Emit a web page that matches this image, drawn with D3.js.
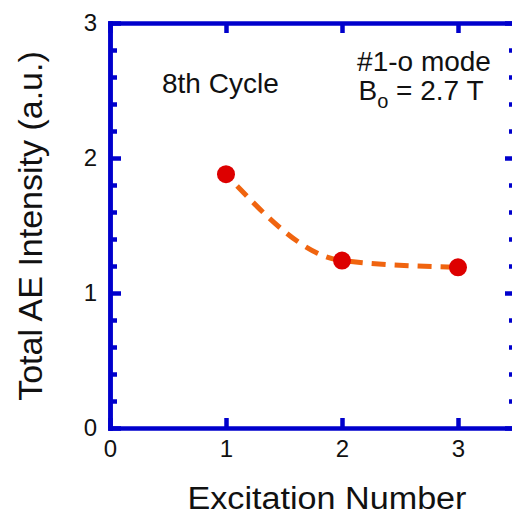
<!DOCTYPE html>
<html>
<head>
<meta charset="utf-8">
<script src="https://cdn.jsdelivr.net/npm/d3@7"></script>
<style>
  body { margin: 0; background: #fff; }
  svg { display: block; font-family: "Liberation Sans", Arial, Helvetica, sans-serif; }
</style>
</head>
<body>
<div id="chart"></div>
<script>
(function() {
  var width = 512,
      height = 511;

  // data
  var excitation = [1, 2, 3];
  var intensity = [1.88, 1.24, 1.19];
  var xTicks = [0, 1, 2, 3];
  var yTicks = [0, 1, 2, 3];
  var yMinor = [0.2, 0.4, 0.6, 0.8, 1.2, 1.4, 1.6, 1.8, 2.2, 2.4, 2.6, 2.8];

  var blue = "#0000cc";

  var svg = d3.select("#chart")
    .append("svg")
    .attr("width", width)
    .attr("height", height);

  var x = d3.scaleLinear().domain([0, 3.5]).range([110, 516]);
  var y = d3.scaleLinear().domain([0, 3]).range([428, 23]);

  function styleAxis(g, withLabels) {
    g.selectAll(".domain")
      .attr("stroke", blue)
      .attr("stroke-width", 4.5)
      .attr("stroke-linecap", "square");
    g.selectAll(".tick line")
      .attr("stroke", blue)
      .attr("stroke-width", 4.5);
    g.selectAll(".tick text")
      .attr("fill", "#111")
      .attr("font-size", withLabels ? 24 : 0)
      .attr("font-family", "Liberation Sans, Arial, sans-serif");
  }

  // minor ticks first (left / right)
  svg.append("g")
    .attr("transform", "translate(110,0)")
    .call(d3.axisLeft(y).tickValues(yMinor).tickSize(-7).tickSizeOuter(0).tickFormat(""))
    .call(function(g) { styleAxis(g, false); });

  svg.append("g")
    .attr("transform", "translate(516,0)")
    .call(d3.axisRight(y).tickValues(yMinor).tickSize(-7).tickSizeOuter(0).tickFormat(""))
    .call(function(g) { styleAxis(g, false); });

  // major ticks
  svg.append("g")
    .attr("transform", "translate(110,0)")
    .call(d3.axisLeft(y).tickValues(yTicks).tickSize(-11).tickSizeOuter(0).tickPadding(13).tickFormat(d3.format("d")))
    .call(function(g) { styleAxis(g, true); });

  svg.append("g")
    .attr("transform", "translate(516,0)")
    .call(d3.axisRight(y).tickValues(yTicks).tickSize(-11).tickSizeOuter(0).tickFormat(""))
    .call(function(g) { styleAxis(g, false); });

  svg.append("g")
    .attr("transform", "translate(0,428)")
    .call(d3.axisBottom(x).tickValues(xTicks).tickSize(-10).tickSizeOuter(0).tickPadding(12).tickFormat(d3.format("d")))
    .call(function(g) { styleAxis(g, true); });

  svg.append("g")
    .attr("transform", "translate(0,23)")
    .call(d3.axisTop(x).tickValues(xTicks).tickSize(-10).tickSizeOuter(0).tickFormat(""))
    .call(function(g) { styleAxis(g, false); });

  // dashed trend curve
  var pts = excitation.map(function(d, i) { return [d, intensity[i]]; });

  var line = d3.line()
    .x(function(d) { return x(d[0]); })
    .y(function(d) { return y(d[1]); })
    .curve(d3.curveMonotoneX);

  svg.append("path")
    .datum(pts)
    .attr("d", line)
    .attr("fill", "none")
    .attr("stroke", "#f0640f")
    .attr("stroke-width", 5)
    .attr("stroke-dasharray", "14,9")
    .attr("stroke-dashoffset", 7);

  svg.selectAll(".pt")
    .data(pts)
    .enter().append("circle")
    .attr("class", "pt")
    .attr("cx", function(d) { return x(d[0]); })
    .attr("cy", function(d) { return y(d[1]); })
    .attr("r", 9)
    .attr("fill", "#dd0000");

  // annotations
  svg.append("text")
    .attr("x", 162)
    .attr("y", 93)
    .attr("font-size", 28)
    .attr("fill", "#111")
    .text("8th Cycle");

  svg.append("text")
    .attr("x", 424)
    .attr("y", 71)
    .attr("text-anchor", "middle")
    .attr("font-size", 28)
    .attr("fill", "#111")
    .text("#1-o mode");

  var b = svg.append("text")
    .attr("x", 421)
    .attr("y", 100)
    .attr("text-anchor", "middle")
    .attr("font-size", 28)
    .attr("fill", "#111");
  b.append("tspan").text("B");
  b.append("tspan").attr("font-size", 20).attr("dy", 8).text("o");
  b.append("tspan").attr("dy", -8).text(" = 2.7 T");

  // axis titles
  svg.append("text")
    .attr("x", 327)
    .attr("y", 509)
    .attr("text-anchor", "middle")
    .attr("font-size", 31)
    .attr("textLength", 279)
    .attr("lengthAdjust", "spacingAndGlyphs")
    .attr("fill", "#111")
    .text("Excitation Number");

  svg.append("text")
    .attr("transform", "translate(42,226) rotate(-90)")
    .attr("text-anchor", "middle")
    .attr("font-size", 34)
    .attr("fill", "#111")
    .text("Total AE Intensity (a.u.)");
})();
</script>
</body>
</html>
